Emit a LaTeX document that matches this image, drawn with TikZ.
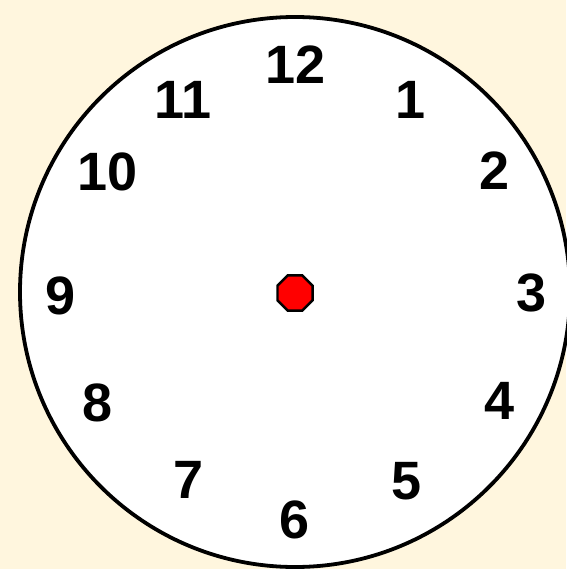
\documentclass[tikz,border=0pt]{standalone}
\usepackage{fontspec}
\setmainfont{Liberation Sans}
\usetikzlibrary{shapes.geometric}
\definecolor{bgcream}{HTML}{FFF6DE}
\definecolor{dotred}{HTML}{FF0000}
\begin{document}
\begin{tikzpicture}[x=1pt,y=-1pt,
  numlabel/.style={inner sep=0pt,font=\fontsize{54}{54}\selectfont\bfseries,text=black},
  face/.style={draw=black,line width=3.8pt,fill=white},
  hub/.style={regular polygon,regular polygon sides=8,draw=black,line width=2.4pt,fill=dotred,minimum size=38pt,inner sep=0pt}]
\fill[bgcream] (0,0) rectangle (566,569);
\useasboundingbox (0,0) rectangle (566,569);
\node[circle,face,minimum size=550pt,inner sep=0pt] (dial) at (295,292) {};
\node[numlabel] (n12) at (296,65) {12};
\node[numlabel] (n1) at (411,100) {1};
\node[numlabel] (n2) at (495,171) {2};
\node[numlabel] (n3) at (532,293) {3};
\node[numlabel] (n4) at (500,401) {4};
\node[numlabel] (n5) at (407,481) {5};
\node[numlabel] (n6) at (295,520) {6};
\node[numlabel] (n7) at (189,480) {7};
\node[numlabel] (n8) at (98,403) {8};
\node[numlabel] (n9) at (61,296) {9};
\node[numlabel] (n10) at (108,172) {10};
\node[numlabel] (n11) at (183,100) {11};
\node[hub] (dot) at (295,293) {};
\end{tikzpicture}
\end{document}
